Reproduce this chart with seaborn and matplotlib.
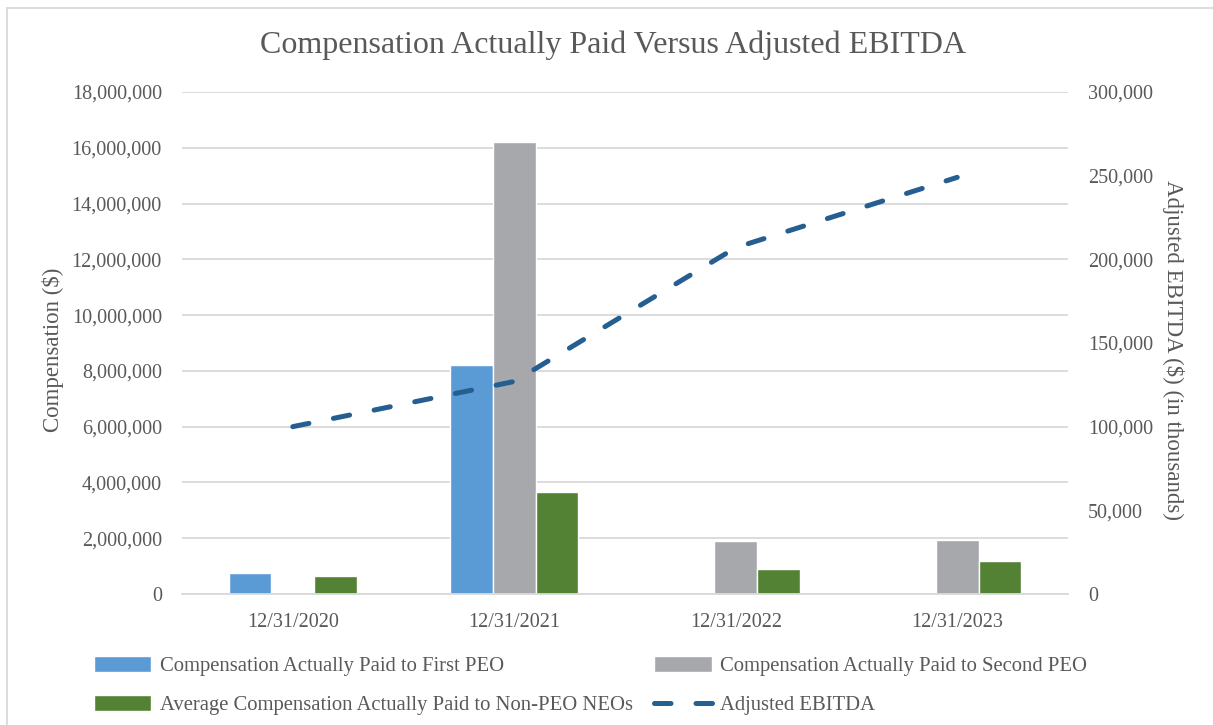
import matplotlib
matplotlib.use("Agg")
import matplotlib.pyplot as plt
import matplotlib.ticker as mticker
from matplotlib.patches import Patch, Rectangle
from matplotlib.lines import Line2D
import seaborn as sns
import pandas as pd
import numpy as np

categories = ["12/31/2020", "12/31/2021", "12/31/2022", "12/31/2023"]
first_peo = [750000, 8210000, np.nan, np.nan]
second_peo = [np.nan, 16210000, 1900000, 1940000]
non_peo_neos = [645000, 3660000, 900000, 1180000]
adj_ebitda = [100000, 127000, 207000, 249000]

series_names = ["Compensation Actually Paid to First PEO",
                "Compensation Actually Paid to Second PEO",
                "Average Compensation Actually Paid to Non-PEO NEOs"]
line_name = "Adjusted EBITDA"
colors = ["#5B9BD5", "#A7A8AC", "#548235"]
line_color = "#255E91"
text_color = "#595959"
grid_color = "#D9D9D9"

sns.set_theme(style="white")
plt.rcParams['font.family'] = ['Liberation Serif', 'DejaVu Serif']

rows = []
for i, c in enumerate(categories):
    for name, vals in zip(series_names, [first_peo, second_peo, non_peo_neos]):
        rows.append({"Date": c, "Series": name, "Value": vals[i]})
df = pd.DataFrame(rows)

fig = plt.figure(figsize=(12.13, 7.25), dpi=100)
ax = fig.add_axes([182/1213, 1-594/725, (1068-182)/1213, (594-92)/725])

sns.barplot(data=df, x="Date", y="Value", hue="Series", order=categories,
            hue_order=series_names, palette=colors, width=0.58, gap=0,
            saturation=1, ax=ax, legend=False, errorbar=None)

ax2 = ax.twinx()
ldf = pd.DataFrame({"x": np.arange(len(categories)), "y": adj_ebitda})
sns.lineplot(data=ldf, x="x", y="y", ax=ax2, color=line_color, linewidth=3.6)
for ln in ax2.lines:
    ln.set_dashes((3.3, 5.0))
    ln.set_dash_capstyle("round")

ax.set_xlim(-0.5, 3.5)
ax.set_ylim(0, 18000000)
ax.set_yticks(np.arange(0, 18000001, 2000000))
ax.yaxis.set_major_formatter(mticker.FuncFormatter(lambda v, p: f"{int(v):,}"))
ax2.set_ylim(0, 300000)
ax2.set_yticks(np.arange(0, 300001, 50000))
ax2.yaxis.set_major_formatter(mticker.FuncFormatter(lambda v, p: f"{int(v):,}"))

ax.grid(axis="y", color=grid_color, linewidth=1.3)
ax.set_axisbelow(True)
ax2.grid(False)
for a in (ax, ax2):
    for s in a.spines.values():
        s.set_visible(False)
ax.spines["bottom"].set_visible(True)
ax.spines["bottom"].set_color(grid_color)
ax.spines["bottom"].set_linewidth(1.3)

ax.set_xticks(np.arange(len(categories)))
ax.set_xticklabels(categories)
ax.set_xticks(np.arange(-0.5, 4.0, 1.0), minor=True)
ax.tick_params(axis="x", which="major", length=0, pad=14, labelsize=14.5, labelcolor=text_color)
ax.tick_params(axis="x", which="minor", length=6, width=1.3, color=grid_color, direction="out")
ax.tick_params(axis="y", length=0, pad=14.5, labelsize=14.5, labelcolor=text_color)
ax2.tick_params(axis="y", length=0, pad=14.5, labelsize=14.5, labelcolor=text_color)

ax.set_xlabel("")
ax.set_ylabel("Compensation ($)", fontsize=16.5, color=text_color)
ax.yaxis.set_label_coords((64-182)/886, (594-350)/502)
ax2.set_xlabel("")
ax2.set_ylabel("Adjusted EBITDA ($) (in thousands)", fontsize=16.5, color=text_color,
               rotation=270, va="center")
ax2.yaxis.set_label_coords((1173-182)/886, (594-350)/502)

fig.text(613/1213, 1-45/725, "Compensation Actually Paid Versus Adjusted EBITDA",
         ha="center", va="center", fontsize=23, color=text_color)

handles = [Patch(facecolor=colors[0]), Patch(facecolor=colors[1]),
           Patch(facecolor=colors[2]),
           Line2D([0], [0], color=line_color, linewidth=3.6, dashes=(3.3, 5.0),
                  dash_capstyle="round")]
labels = [series_names[0], series_names[1], series_names[2], line_name]
order = [0, 2, 1, 3]
leg = fig.legend([handles[i] for i in order], [labels[i] for i in order],
                 ncol=2, loc="upper left", bbox_to_anchor=(94/1213, 1-656/725),
                 frameon=False, fontsize=14.85, handlelength=2.78, handleheight=0.8,
                 handletextpad=0.4, columnspacing=1.05, labelspacing=0.92,
                 borderaxespad=0, borderpad=0)
for t in leg.get_texts():
    t.set_color(text_color)

fig.add_artist(Rectangle((7/1213, -0.1), 1.2, 1-8/725+0.1, transform=fig.transFigure,
                         fill=False, edgecolor="#D9D9D9", linewidth=1.3))

fig.savefig("out.png", dpi=100, facecolor="white")
